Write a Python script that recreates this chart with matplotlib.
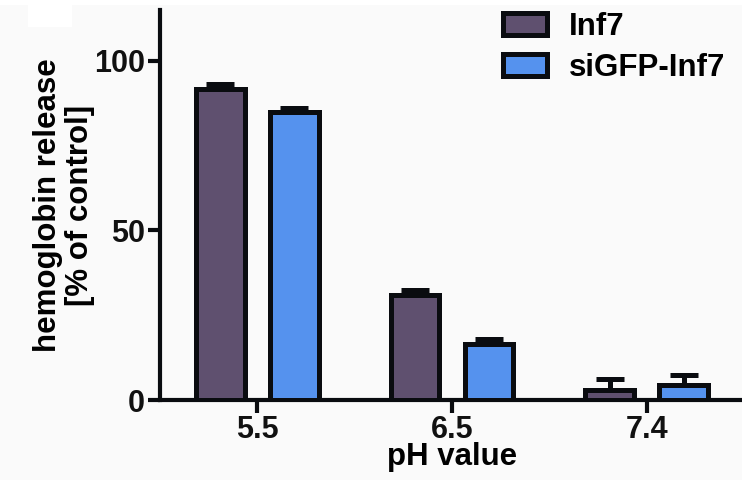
import matplotlib
matplotlib.use("Agg")
import matplotlib.pyplot as plt
from matplotlib.patches import Rectangle
import numpy as np

plt.rcParams['font.family'] = ['Liberation Sans', 'DejaVu Sans']
plt.rcParams['font.weight'] = 'bold'

ph_values = ["5.5", "6.5", "7.4"]
series_names = ["Inf7", "siGFP-Inf7"]
inf7_mean = [91.7, 31.0, 3.0]
inf7_sem = [1.5, 1.5, 3.3]
sigfp_mean = [85.0, 16.6, 4.4]
sigfp_sem = [1.0, 1.5, 3.0]

colors = ["#5f506f", "#5592ee"]
edge = "#0a0c10"

fig = plt.figure(figsize=(7.42, 4.80), dpi=100, facecolor="#fafafa")
ax = fig.add_axes([160 / 742, 80 / 480, 584 / 742, 390 / 480])
ax.set_facecolor("#fafafa")

# white strips along the top edge
fig.patches.append(Rectangle((0, 1 - 5 / 480), 1, 5 / 480, transform=fig.transFigure,
                             facecolor="white", edgecolor="none", zorder=0))
fig.patches.append(Rectangle((28 / 742, 1 - 27 / 480), 44 / 742, 27 / 480,
                             transform=fig.transFigure, facecolor="white",
                             edgecolor="none", zorder=0))

x = np.arange(len(ph_values))
width = 0.25
offset = 0.19
for i, (means, sems) in enumerate([(inf7_mean, inf7_sem), (sigfp_mean, sigfp_sem)]):
    pos = x + (-offset if i == 0 else offset)
    ax.errorbar(pos, means, yerr=[np.zeros(len(means)), sems], fmt="none",
                ecolor=edge, elinewidth=3.6, capsize=10, capthick=3.6, zorder=2)
    ax.bar(pos, means, width=width, color=colors[i], edgecolor=edge,
           linewidth=3.6, label=series_names[i], zorder=3)

ax.set_xlim(-0.5, 2.5)
ax.set_ylim(0, 115)
ax.set_yticks([0, 50, 100])
ax.set_xticks(x)
ax.set_xticklabels(ph_values)

for side in ("top", "right"):
    ax.spines[side].set_visible(False)
for side in ("left", "bottom"):
    ax.spines[side].set_linewidth(3)
    ax.spines[side].set_color(edge)
ax.tick_params(axis="both", width=3, length=9, color=edge, labelsize=22,
               labelcolor="#111111", pad=2)

ax.set_ylabel("hemoglobin release\n[% of control]", fontsize=22.5, fontweight="bold",
              linespacing=1.1, labelpad=-1)
ax.set_xlabel("pH value", fontsize=22.5, fontweight="bold", labelpad=-2)

leg = ax.legend(loc="upper left", bbox_to_anchor=(343 / 584, 0.995), frameon=False,
                fontsize=22.5, handlelength=1.4, handleheight=0.7, borderpad=0,
                handletextpad=0.7, labelspacing=0.35, borderaxespad=0)
for t in leg.get_texts():
    t.set_fontweight("bold")

fig.savefig("out.png", dpi=100, facecolor=fig.get_facecolor())
